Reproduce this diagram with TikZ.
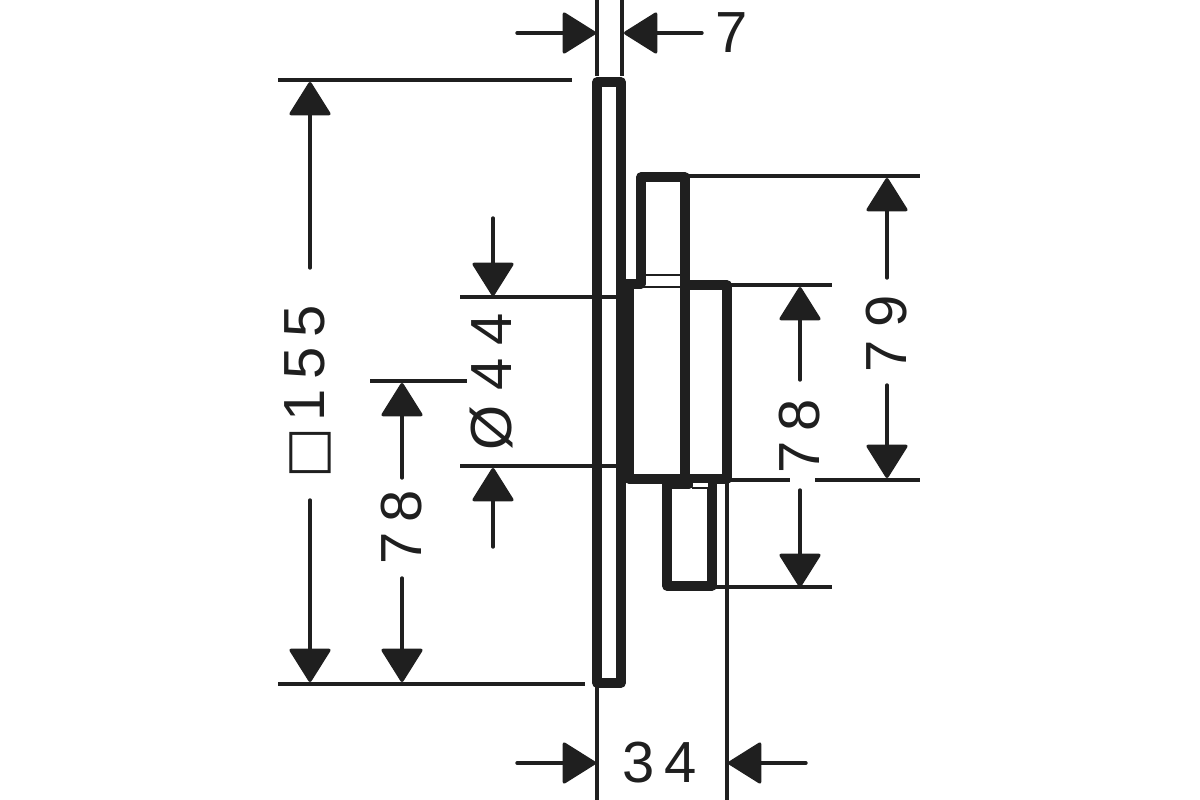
\documentclass[tikz,border=0pt]{standalone}
\usepackage{fontspec}
\setmainfont{Liberation Sans}
\newfontfamily\symfont{DejaVu Sans}
\usetikzlibrary{arrows.meta}

\begin{document}
\begin{tikzpicture}[x=1pt,y=-1pt,
      color=black!88,
      partline/.style = {line width=9.5pt, line join=round, line cap=round},
      thinline/.style = {line width=2.4pt},
      extline/.style = {line width=3.2pt},
      dimline/.style = {line width=3.4pt, line cap=round,
        -{Triangle[length=35pt,width=43pt,round]}},
      dimtext/.style = {font=\fontsize{58}{58}\selectfont, inner xsep=0pt, inner ysep=0pt}]
      \useasboundingbox (0,0) rectangle (1200,800);
      % part outline
      \draw[partline] (597,82) rectangle (621,683);
      \draw[partline] (622,284) -- (641,284) -- (641,177) -- (685,177) -- (685,480);
      \draw[partline] (685,285) -- (727,285) -- (727,479) -- (629,479) -- (629,288);
      \draw[partline] (689,484) -- (667,484) -- (667,586) -- (712,586) -- (712,482);
      \draw[thinline] (641,275) -- (685,275);
      \draw[thinline] (638,287) -- (685,287);
      \draw[thinline] (692,488) -- (708,488);
      \draw[line width=1pt,white,fill=white] (693,483.5) rectangle (707,486.5);
      % extension lines
      \draw[extline] (597,0) -- (597,76);
      \draw[extline] (622,0) -- (622,76);
      \draw[extline] (278,80) -- (572,80);
      \draw[extline] (278,684) -- (585,684);
      \draw[extline] (370,381) -- (467,381);
      \draw[extline] (460,297) -- (620,297);
      \draw[extline] (460,466) -- (620,466);
      \draw[extline] (685,176) -- (920,176);
      \draw[extline] (700,285) -- (832,285);
      \draw[extline] (730,480) -- (790,480);
      \draw[extline] (815,480) -- (920,480);
      \draw[extline] (712,587) -- (832,587);
      \draw[extline] (597,684) -- (597,800);
      \draw[extline] (727,480) -- (727,800);
      % dimensions
      \coordinate (tipSevenL) at (596,33);
      \coordinate (tipSevenR) at (624,33);
      \draw[dimline] (517,33) -- (tipSevenL);
      \draw[dimline] (702,33) -- (tipSevenR);
      \node[dimtext] (labelSeven) at (732,33) {7};
      \node[dimtext,rotate=90] (labelSide) at (308,392)
        {{\symfont\fontsize{54}{54}\selectfont □}\kern6pt 1\,5\,5};
      \coordinate (tipSideT) at (310,82);
      \coordinate (tipSideB) at (310,682);
      \draw[dimline] (310,268) -- (tipSideT);
      \draw[dimline] (310,500) -- (tipSideB);
      \node[dimtext,rotate=90] (labelLeft) at (402,527) {7\,8};
      \coordinate (tipLeftT) at (402,383);
      \coordinate (tipLeftB) at (402,682);
      \draw[dimline] (402,478) -- (tipLeftT);
      \draw[dimline] (402,578) -- (tipLeftB);
      \node[dimtext,rotate=90] (labelDia) at (491,382) {Ø\kern15pt 4\kern13pt 4};
      \coordinate (tipDiaT) at (493,296);
      \coordinate (tipDiaB) at (493,468);
      \draw[dimline] (493,218) -- (tipDiaT);
      \draw[dimline] (493,547) -- (tipDiaB);
      \node[dimtext,rotate=90] (labelMid) at (800,436) {7\,8};
      \coordinate (tipMidT) at (800,287);
      \coordinate (tipMidB) at (800,587);
      \draw[dimline] (800,380) -- (tipMidT);
      \draw[dimline] (800,490) -- (tipMidB);
      \node[dimtext,rotate=90] (labelRight) at (887,334) {7\kern13pt 9};
      \coordinate (tipRightT) at (887,178);
      \coordinate (tipRightB) at (887,478);
      \draw[dimline] (887,278) -- (tipRightT);
      \draw[dimline] (887,385) -- (tipRightB);
      \node[dimtext] (labelDepth) at (660,763) {3\,4};
      \coordinate (tipDepthL) at (596,763);
      \coordinate (tipDepthR) at (728,763);
      \draw[dimline] (517,763) -- (tipDepthL);
      \draw[dimline] (806,763) -- (tipDepthR);
  \end{tikzpicture}
\end{document}
